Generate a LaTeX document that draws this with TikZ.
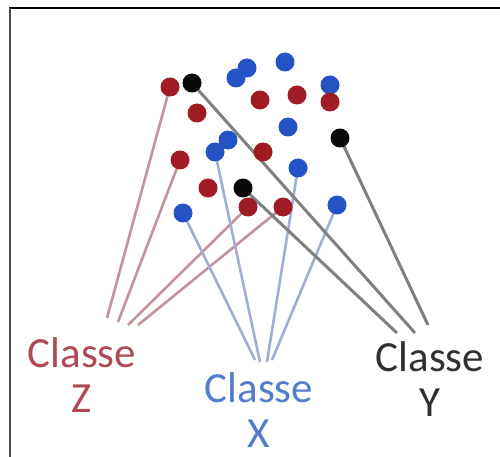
\documentclass[tikz,border=0pt]{standalone}
\usepackage{fontspec}
\setmainfont{Carlito}
\definecolor{dotred}{RGB}{160,28,36}
\definecolor{dotblue}{RGB}{36,84,196}
\definecolor{dotblack}{RGB}{10,10,10}
\definecolor{linkred}{RGB}{196,146,154}
\definecolor{linkblue}{RGB}{160,174,210}
\definecolor{linkgray}{RGB}{128,128,128}
\definecolor{labred}{RGB}{176,72,86}
\definecolor{labblue}{RGB}{84,124,204}
\definecolor{labblack}{RGB}{48,48,48}
\tikzset{
  pt/.style={circle,inner sep=0pt,minimum size=19pt,draw=none},
  redpt/.style={pt,fill=dotred},
  bluept/.style={pt,fill=dotblue},
  blackpt/.style={pt,fill=dotblack},
  redlink/.style={draw=linkred,line width=2.6pt},
  bluelink/.style={draw=linkblue,line width=2.6pt},
  graylink/.style={draw=linkgray,line width=3pt},
  classlabel/.style={align=center,font=\fontsize{43}{45}\selectfont,inner sep=0pt}
}
\begin{document}
\begin{tikzpicture}[x=1pt,y=-1pt]
\useasboundingbox (0,0) rectangle (500,457);
\fill[white] (0,0) rectangle (500,457);
% frame edges
\draw[black,line width=2pt] (9,8) -- (500,8);
\draw[black!70,line width=2pt] (9.5,8) -- (9.5,457);

% points (positions only, drawn later on top of the links)
\coordinate (r1) at (170,87);
\coordinate (r6) at (180,160);
\coordinate (r9) at (248,207);
\coordinate (r10) at (283,207);
\coordinate (b7) at (215,152);
\coordinate (b8) at (298,168);
\coordinate (b9) at (183,213);
\coordinate (b10) at (337,205);
\coordinate (k1) at (192,83);
\coordinate (k2) at (340,138);
\coordinate (k3) at (243,188);

% link end points above the labels
\coordinate (z1) at (107,318);
\coordinate (z2) at (118,322);
\coordinate (z3) at (128,325);
\coordinate (z4) at (138,325);
\coordinate (x1) at (255,360);
\coordinate (x2) at (260,362);
\coordinate (x3) at (267,362);
\coordinate (x4) at (272,360);
\coordinate (y1) at (415,333);
\coordinate (y2) at (397,333);
\coordinate (y3) at (428,325);

% links to class Z
\draw[redlink] (r1) -- (z1);
\draw[redlink] (r6) -- (z2);
\draw[redlink] (r9) -- (z3);
\draw[redlink] (r10) -- (z4);
% links to class X
\draw[bluelink] (b9) -- (x1);
\draw[bluelink] (b7) -- (x2);
\draw[bluelink] (b8) -- (x3);
\draw[bluelink] (b10) -- (x4);
% links to class Y
\draw[graylink] (k1) -- (y1);
\draw[graylink] (k3) -- (y2);
\draw[graylink] (k2) -- (y3);

% blue points
\node[bluept] (nb1) at (247,68) {};
\node[bluept] (nb2) at (236,78) {};
\node[bluept] (nb3) at (285,62) {};
\node[bluept] (nb4) at (330,85) {};
\node[bluept] (nb5) at (288,127) {};
\node[bluept] (nb6) at (228,140) {};
\node[bluept] (nb7) at (b7) {};
\node[bluept] (nb8) at (b8) {};
\node[bluept] (nb9) at (b9) {};
\node[bluept] (nb10) at (b10) {};
% red points
\node[redpt] (nr1) at (r1) {};
\node[redpt] (nr2) at (197,113) {};
\node[redpt] (nr3) at (260,100) {};
\node[redpt] (nr4) at (297,95) {};
\node[redpt] (nr5) at (330,102) {};
\node[redpt] (nr6) at (r6) {};
\node[redpt] (nr7) at (263,152) {};
\node[redpt] (nr8) at (208,188) {};
\node[redpt] (nr9) at (r9) {};
\node[redpt] (nr10) at (r10) {};
% black points
\node[blackpt] (nk1) at (k1) {};
\node[blackpt] (nk2) at (k2) {};
\node[blackpt] (nk3) at (k3) {};

% class labels
\node[classlabel,text=labred] (lz) at (82,375) {Classe\\Z};
\node[classlabel,text=labblue] (lx) at (259,410) {Classe\\X};
\node[classlabel,text=labblack] (ly) at (430,379) {Classe\\Y};
\end{tikzpicture}
\end{document}
